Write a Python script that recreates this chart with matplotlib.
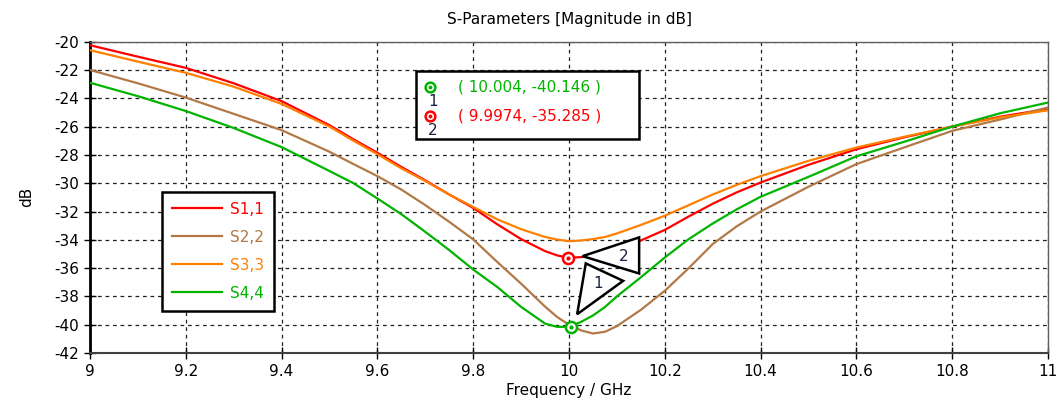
import matplotlib
matplotlib.use("Agg")
import matplotlib.pyplot as plt
import matplotlib.patches as patches

plt.rcParams["axes.unicode_minus"] = False

# frequency samples (GHz)
freq = [9.0, 9.1, 9.2, 9.3, 9.4, 9.5, 9.55, 9.6, 9.65, 9.7, 9.75, 9.8, 9.85,
        9.9, 9.95, 9.975, 10.0, 10.025, 10.05, 10.075, 10.1, 10.15, 10.2,
        10.25, 10.3, 10.35, 10.4, 10.5, 10.6, 10.7, 10.8, 10.9, 11.0]

s11 = [-20.25, -21.06, -21.85, -22.94, -24.2, -25.9, -26.9, -27.85, -28.85,
       -29.8, -30.8, -31.75, -32.9, -33.95, -34.8, -35.1, -35.28, -35.22,
       -35.1, -34.92, -34.65, -34.05, -33.3, -32.35, -31.45, -30.65, -29.95,
       -28.7, -27.6, -26.76, -26.0, -25.3, -24.75]

s22 = [-22.0, -22.94, -23.95, -25.1, -26.25, -27.78, -28.65, -29.5, -30.45,
       -31.55, -32.73, -33.97, -35.56, -37.1, -38.72, -39.45, -40.0, -40.4,
       -40.62, -40.5, -40.1, -38.95, -37.6, -36.0, -34.3, -33.05, -32.0,
       -30.25, -28.65, -27.47, -26.3, -25.5, -24.65]

s33 = [-20.6, -21.41, -22.2, -23.18, -24.4, -26.0, -27.0, -27.95, -28.95,
       -29.85, -30.8, -31.68, -32.55, -33.25, -33.8, -33.98, -34.1, -34.05,
       -33.95, -33.8, -33.55, -32.95, -32.3, -31.55, -30.8, -30.12, -29.5,
       -28.42, -27.48, -26.72, -26.0, -25.35, -24.85]

s44 = [-22.9, -23.85, -24.9, -26.1, -27.45, -29.14, -30.0, -31.08, -32.19,
       -33.44, -34.73, -36.1, -37.33, -38.74, -39.92, -40.15, -40.15, -39.8,
       -39.35, -38.75, -38.0, -36.65, -35.25, -33.95, -32.85, -31.85, -30.96,
       -29.55, -28.1, -27.07, -26.0, -25.06, -24.3]

labels = ["S1,1", "S2,2", "S3,3", "S4,4"]
colors = ["#ff0000", "#b27946", "#ff8000", "#00b400"]

# markers: (freq, dB)
mk_id = ["1", "2"]
mk_x = [10.004, 9.9974]
mk_y = [-40.146, -35.285]
mk_col = ["#00b400", "#ff0000"]

xticks = [9, 9.2, 9.4, 9.6, 9.8, 10, 10.2, 10.4, 10.6, 10.8, 11]
yticks = list(range(-20, -43, -2))

fs = 11
fig = plt.figure(figsize=(10.6, 4.16), dpi=100)
ax = fig.add_axes([0.0849, 0.1514, 0.9038, 0.7484])

for y, lab, c in zip([s11, s22, s33, s44], labels, colors):
    ax.plot(freq, y, color=c, lw=1.6, label=lab, zorder=3)

ax.set_xlim(9, 11)
ax.set_ylim(-42, -20)
ax.set_xticks(xticks)
ax.set_xticklabels([f"{v:g}" for v in xticks])
ax.set_yticks(yticks)
ax.grid(True, color="#202020", linestyle=(0, (3, 3)), lw=0.9)
ax.tick_params(direction="inout", length=8, width=1, labelsize=fs, pad=4)

ax.spines["left"].set_linewidth(2)
ax.spines["left"].set_color("black")
ax.spines["bottom"].set_linewidth(1.5)
ax.spines["bottom"].set_color("#404040")
for s in ["top", "right"]:
    ax.spines[s].set_linewidth(1)
    ax.spines[s].set_color("#606060")

ax.set_title("S-Parameters [Magnitude in dB]", fontsize=fs, pad=13)
ax.set_xlabel("Frequency / GHz", fontsize=fs, labelpad=3)
ax.set_ylabel("dB", fontsize=fs, labelpad=14)

# marker circles with centre dot
for x, y, c in zip(mk_x, mk_y, mk_col):
    ax.plot(x, y, "o", ms=8, mfc="white", mec=c, mew=1.8, zorder=6)
    ax.plot(x, y, "o", ms=2, mfc=c, mec=c, zorder=7)

# triangle callouts, offsets relative to each marker
tri_off = {
    "1": ([(0.013, 0.886), (0.031, 4.476), (0.109, 3.246)], (0.057, 3.056)),
    "2": ([(0.031, 0.13), (0.149, 1.455), (0.149, -1.095)], (0.116, 0.085)),
}
for mid, x, y in zip(mk_id, mk_x, mk_y):
    pts, (lx, ly) = tri_off[mid]
    poly = patches.Polygon([(x + dx, y + dy) for dx, dy in pts], closed=True,
                           facecolor="white", edgecolor="black", lw=1.8, zorder=5)
    ax.add_patch(poly)
    ax.text(x + lx, y + ly, mid, fontsize=fs, color="#1a2040",
            ha="center", va="center", zorder=6)

# marker readout box
box = patches.Rectangle((0.3403, 0.6874), 0.2331, 0.2194, transform=ax.transAxes,
                        facecolor="white", edgecolor="black", lw=1.8, zorder=8)
ax.add_patch(box)
for i, (mid, x, y, c) in enumerate(zip(mk_id, mk_x, mk_y, mk_col)):
    yy = 0.854 - i * 0.093
    ax.plot(0.355, yy, "o", ms=7, mfc="white", mec=c, mew=1.8,
            transform=ax.transAxes, zorder=9)
    ax.plot(0.355, yy, "o", ms=1.8, mfc=c, mec=c, transform=ax.transAxes, zorder=10)
    ax.text(0.358, yy - 0.045, mid, fontsize=fs, color="#1a2040", ha="center",
            va="center", transform=ax.transAxes, zorder=10)
    ax.text(0.384, yy, f"( {x:g}, {y:g} )", fontsize=fs, color=c, ha="left",
            va="center", transform=ax.transAxes, zorder=10)

leg = ax.legend(loc="upper left", bbox_to_anchor=(0.0752, 0.518), borderaxespad=0,
                fontsize=fs, handlelength=3.3, handletextpad=0.5, labelspacing=0.85,
                fancybox=False, framealpha=1, borderpad=0.65)
leg.get_frame().set_edgecolor("black")
leg.get_frame().set_linewidth(1.8)
for t, c in zip(leg.get_texts(), colors):
    t.set_color(c)
leg.set_zorder(9)

fig.savefig("out.png", dpi=100)
